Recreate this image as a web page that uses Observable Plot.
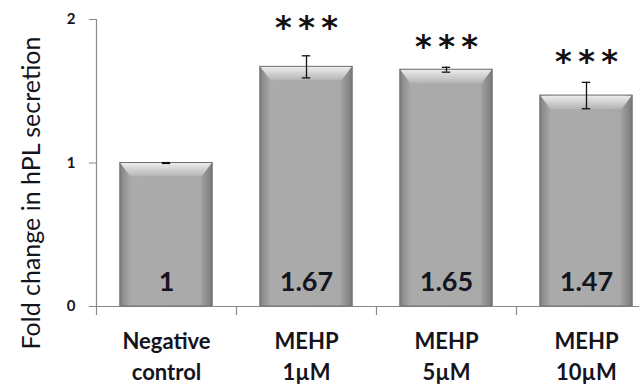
<!DOCTYPE html>
<html>
<head>
<meta charset="utf-8">
<script src="https://cdn.jsdelivr.net/npm/d3@7"></script>
<script src="https://cdn.jsdelivr.net/npm/@observablehq/plot@0.6"></script>
<style>
  html, body { margin: 0; padding: 0; background: #fff; overflow: hidden; }
</style>
</head>
<body>
<div id="chart"></div>
<script>
const categories = ["Negative\ncontrol", "MEHP\n1µM", "MEHP\n5µM", "MEHP\n10µM"];
const values = [1, 1.67, 1.65, 1.47];
const valueLabels = ["1", "1.67", "1.65", "1.47"];
const errors = [0.003, 0.077, 0.017, 0.092];
const stars = ["", "***", "***", "***"];
const starLevel = [null, 1.97, 1.84, 1.735];
const yTicks = [0, 1, 2];
const yLabel = "Fold change in hPL secretion";

const data = categories.map((c, i) => ({
  i, cat: c, value: values[i], label: valueLabels[i], err: errors[i],
  star: stars[i].split("").join("\u2009"), starY: starLevel[i]
}));

const half = 0.33;
const ink = "#141420";
const font = "Lato, 'Open Sans', sans-serif";

const plot = Plot.plot({
  width: 639,
  height: 386,
  marginLeft: 96,
  marginRight: 0,
  marginTop: 19,
  marginBottom: 80,
  style: { fontFamily: font, background: "#fff", overflow: "hidden" },
  x: { type: "linear", domain: [-0.5, 3.5], range: [96, 656], axis: null },
  y: { domain: [0, 2], axis: null },
  marks: [
    Plot.ruleX([-0.5], { y1: 0, y2: 2, stroke: "#8a8a8a", strokeWidth: 1.2 }),
    Plot.ruleY([0], { stroke: "#8a8a8a", strokeWidth: 1.2 }),
    Plot.axisX({ ticks: [-0.5, 0.5, 1.5, 2.5], tickSize: 9, tickFormat: () => "", label: null, stroke: "#8a8a8a", strokeWidth: 1.2 }),
    Plot.axisY({ ticks: yTicks, tickSize: 7, tickPadding: 14, tickFormat: d3.format("d"), fontSize: 15, fontWeight: "bold", stroke: "#8a8a8a", fill: ink, label: null }),
    Plot.rectY(data, { x1: d => d.i - half, x2: d => d.i + half, y1: 0, y2: "value", fill: "url(#barBody)", stroke: "#707070", strokeWidth: 1 }),
    Plot.rectY(data, { x1: d => d.i - half, x2: d => d.i + half, y1: "value", y2: "value", insetBottom: -14, insetLeft: 0.5, insetRight: 0.5, insetTop: 0.5, fill: "url(#barTop)" }),
    Plot.ruleX(data, { x: "i", y1: d => d.value - d.err, y2: d => d.value + d.err, stroke: "#111", strokeWidth: 1.3 }),
    Plot.ruleY(data, { x1: d => d.i - 0.03, x2: d => d.i + 0.03, y: d => d.value + d.err, stroke: "#111", strokeWidth: 1.3 }),
    Plot.ruleY(data, { x1: d => d.i - 0.03, x2: d => d.i + 0.03, y: d => d.value - d.err, stroke: "#111", strokeWidth: 1.3 }),
    Plot.text(data, { x: "i", y: 0, text: "label", dy: -24, fontSize: 27, fontWeight: "bold", fill: ink, lineAnchor: "middle" }),
    Plot.text(data.filter(d => d.star), { x: "i", y: "starY", text: "star", dy: 4, fontSize: 32, fontWeight: "bold", fontFamily: "'DejaVu Sans', sans-serif", fill: "#111", lineAnchor: "middle" }),
    Plot.text(data, { x: "i", y: 0, text: "cat", dy: 21, fontSize: 22, fontWeight: "bold", fill: ink, lineAnchor: "top", lineHeight: 1.4 }),
    Plot.text([yLabel], { frameAnchor: "left", rotate: -90, dx: -65, dy: 30, fontSize: 25, fill: ink, textAnchor: "middle", text: d => d })
  ]
});

const svg = d3.select(plot);
const defs = svg.insert("defs", ":first-child");
const bodyGrad = defs.append("linearGradient").attr("id", "barBody").attr("x1", 0).attr("x2", 1).attr("y1", 0).attr("y2", 0);
[["0%", "#7a7a7a"], ["3%", "#8c8c8c"], ["10%", "#a4a4a4"], ["13%", "#ababab"], ["87%", "#a9a9a9"], ["90%", "#9a9a9a"], ["97%", "#848484"], ["100%", "#767676"]]
  .forEach(([o, c]) => bodyGrad.append("stop").attr("offset", o).attr("stop-color", c));
const topGrad = defs.append("linearGradient").attr("id", "barTop").attr("x1", 0).attr("x2", 0).attr("y1", 0).attr("y2", 1);
[["0%", "#ececec"], ["40%", "#d6d6d6"], ["100%", "#b4b4b4"]]
  .forEach(([o, c]) => topGrad.append("stop").attr("offset", o).attr("stop-color", c));
const clip = defs.append("clipPath").attr("id", "bevelClip").attr("clipPathUnits", "objectBoundingBox");
clip.append("polygon").attr("points", "0,0 1,0 0.89,1 0.11,1");
svg.selectAll("[fill='url(#barTop)'] rect, rect[fill='url(#barTop)']").attr("clip-path", "url(#bevelClip)");

document.getElementById("chart").appendChild(plot);
</script>
</body>
</html>
